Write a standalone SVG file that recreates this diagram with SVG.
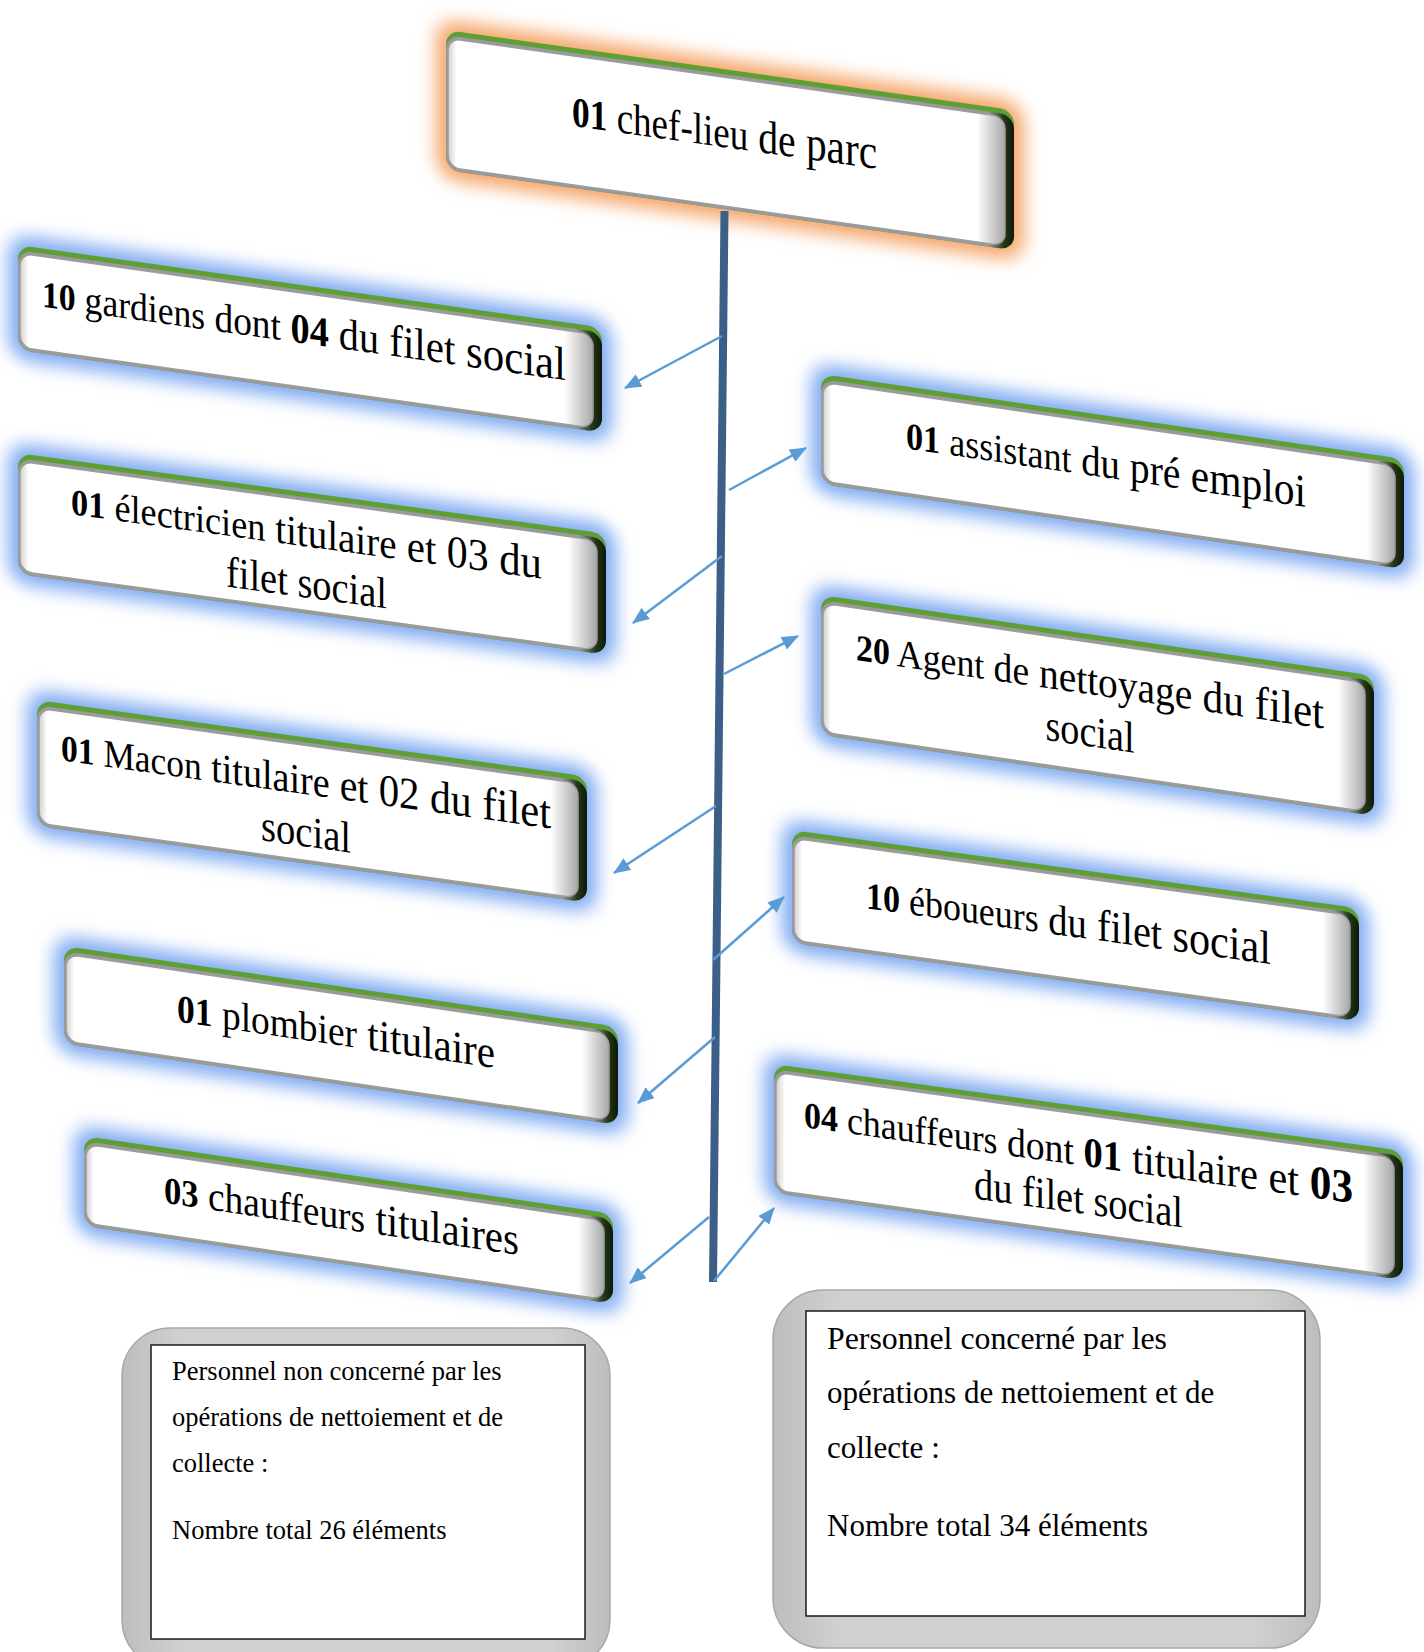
<svg xmlns="http://www.w3.org/2000/svg" width="1424" height="1652" viewBox="0 0 1424 1652">
<style>
.t{font-family:"Liberation Serif","Times New Roman",serif;fill:#000;}
.b{font-weight:bold;}
.s{font-family:"Liberation Serif","Times New Roman",serif;fill:#000;}
.glowB{fill:#80abf2;filter:url(#blur);}
.glowO{fill:#f6a66a;filter:url(#blur);}
.green{fill:#5e9f35;}
.side{fill:url(#sideG);}
.face{fill:url(#faceG);stroke:#9c9c9c;stroke-width:1.5;}
.arrow{stroke:#5b9bd5;stroke-width:2.5;fill:none;marker-end:url(#ah);}
.frame{fill:url(#grayG);stroke:#a8a8a8;stroke-width:1.5;}
.inner{fill:#fff;stroke:#1a1a1a;stroke-width:1.5;}
</style>
<defs>
<filter id="blur" x="-20%" y="-50%" width="140%" height="200%"><feGaussianBlur stdDeviation="9"/></filter>
<linearGradient id="sideG" x1="0" y1="0" x2="1" y2="0">
<stop offset="0" stop-color="#9a9a9a"/><stop offset="0.955" stop-color="#9a9a9a"/><stop offset="0.982" stop-color="#25381a"/><stop offset="1" stop-color="#0e1808"/>
</linearGradient>
<linearGradient id="faceG" x1="0" y1="0" x2="1" y2="0">
<stop offset="0" stop-color="#cfcfcf"/><stop offset="0.015" stop-color="#ffffff"/><stop offset="0.95" stop-color="#ffffff"/><stop offset="1" stop-color="#a8a8a8"/>
</linearGradient>
<linearGradient id="grayG" x1="0" y1="0" x2="1" y2="0">
<stop offset="0" stop-color="#bdbdbd"/><stop offset="0.12" stop-color="#d0d0d0"/><stop offset="0.88" stop-color="#d0d0d0"/><stop offset="1" stop-color="#bdbdbd"/>
</linearGradient>
<marker id="ah" markerUnits="userSpaceOnUse" markerWidth="18" markerHeight="14" refX="16" refY="7" orient="auto">
<path d="M0,0 L17,7 L0,14 Z" fill="#5b9bd5"/>
</marker>
</defs>
<rect width="1424" height="1652" fill="#fff"/>

<g id="node-chef" transform="translate(446,30) skewY(8.03)">
<rect class="glowO" x="-10" y="-10" width="588" height="160" rx="22"/>
<rect class="green" x="0" y="0" width="568" height="140" rx="14"/>
<rect class="side" x="0" y="5" width="568" height="135" rx="14"/>
<rect class="face" x="2" y="8" width="557" height="129" rx="12"/>
<text class="t" x="278.5" y="78" text-anchor="middle" textLength="305" lengthAdjust="spacingAndGlyphs"><tspan class="b" font-size="42">01</tspan><tspan font-size="44"> chef-lieu</tspan><tspan font-size="47"> de</tspan><tspan font-size="49"> parc</tspan></text>
</g>

<g id="node-gardiens" transform="translate(18,245) skewY(8.03)">
<rect class="glowB" x="-10" y="-10" width="604" height="125" rx="22"/>
<rect class="green" x="0" y="0" width="584" height="105" rx="14"/>
<rect class="side" x="0" y="5" width="584" height="100" rx="14"/>
<rect class="face" x="2" y="8" width="573" height="94" rx="12"/>
<text class="t" x="286" y="58" text-anchor="middle" textLength="524" lengthAdjust="spacingAndGlyphs"><tspan class="b" font-size="37">10</tspan><tspan font-size="39"> gardiens</tspan><tspan font-size="41"> dont</tspan><tspan class="b" font-size="42"> 04</tspan><tspan font-size="44"> du</tspan><tspan font-size="45"> filet</tspan><tspan font-size="47"> social</tspan></text>
</g>

<g id="node-electricien" transform="translate(18,453) skewY(7.80)">
<rect class="glowB" x="-10" y="-10" width="608" height="141" rx="22"/>
<rect class="green" x="0" y="0" width="588" height="121" rx="14"/>
<rect class="side" x="0" y="5" width="588" height="116" rx="14"/>
<rect class="face" x="2" y="8" width="577" height="110" rx="12"/>
<text class="t" x="288.5" y="54" text-anchor="middle" textLength="471" lengthAdjust="spacingAndGlyphs"><tspan class="b" font-size="37">01</tspan><tspan font-size="39"> électricien</tspan><tspan font-size="42"> titulaire</tspan><tspan font-size="44"> et</tspan><tspan font-size="45"> 03</tspan><tspan font-size="46"> du</tspan></text>
<text class="t" x="288.5" y="105" font-size="44" text-anchor="middle" textLength="161" lengthAdjust="spacingAndGlyphs">filet social</text>
</g>

<g id="node-macon" transform="translate(37,700) skewY(7.91)">
<rect class="glowB" x="-10" y="-10" width="570" height="146" rx="22"/>
<rect class="green" x="0" y="0" width="550" height="126" rx="14"/>
<rect class="side" x="0" y="5" width="550" height="121" rx="14"/>
<rect class="face" x="2" y="8" width="539" height="115" rx="12"/>
<text class="t" x="269" y="57" text-anchor="middle" textLength="490" lengthAdjust="spacingAndGlyphs"><tspan class="b" font-size="37">01</tspan><tspan font-size="39"> Macon</tspan><tspan font-size="42"> titulaire</tspan><tspan font-size="44"> et</tspan><tspan font-size="45"> 02</tspan><tspan font-size="46"> du</tspan><tspan font-size="47"> filet</tspan></text>
<text class="t" x="269" y="109" font-size="44" text-anchor="middle" textLength="90" lengthAdjust="spacingAndGlyphs">social</text>
</g>

<g id="node-plombier" transform="translate(64,946) skewY(8.31)">
<rect class="glowB" x="-10" y="-10" width="574" height="118" rx="22"/>
<rect class="green" x="0" y="0" width="554" height="98" rx="14"/>
<rect class="side" x="0" y="5" width="554" height="93" rx="14"/>
<rect class="face" x="2" y="8" width="543" height="87" rx="12"/>
<text class="t" x="272" y="59" text-anchor="middle" textLength="318" lengthAdjust="spacingAndGlyphs"><tspan class="b" font-size="39">01</tspan><tspan font-size="41"> plombier</tspan><tspan font-size="45"> titulaire</tspan></text>
</g>

<g id="node-chauffeurs-titulaires" transform="translate(84,1136) skewY(8.36)">
<rect class="glowB" x="-10" y="-10" width="549" height="110" rx="22"/>
<rect class="green" x="0" y="0" width="529" height="90" rx="14"/>
<rect class="side" x="0" y="5" width="529" height="85" rx="14"/>
<rect class="face" x="2" y="8" width="518" height="79" rx="12"/>
<text class="t" x="257.5" y="55" text-anchor="middle" textLength="355" lengthAdjust="spacingAndGlyphs"><tspan class="b" font-size="38">03</tspan><tspan font-size="41"> chauffeurs</tspan><tspan font-size="45"> titulaires</tspan></text>
</g>

<g id="node-assistant" transform="translate(821,374) skewY(8.31)">
<rect class="glowB" x="-10" y="-10" width="603" height="130" rx="22"/>
<rect class="green" x="0" y="0" width="583" height="110" rx="14"/>
<rect class="side" x="0" y="5" width="583" height="105" rx="14"/>
<rect class="face" x="2" y="8" width="572" height="99" rx="12"/>
<text class="t" x="285" y="62" text-anchor="middle" textLength="400" lengthAdjust="spacingAndGlyphs"><tspan class="b" font-size="38">01</tspan><tspan font-size="40"> assistant</tspan><tspan font-size="43"> du</tspan><tspan font-size="44"> pré</tspan><tspan font-size="46"> emploi</tspan></text>
</g>

<g id="node-agent" transform="translate(821,595) skewY(8.31)">
<rect class="glowB" x="-10" y="-10" width="573" height="160" rx="22"/>
<rect class="green" x="0" y="0" width="553" height="140" rx="14"/>
<rect class="side" x="0" y="5" width="553" height="135" rx="14"/>
<rect class="face" x="2" y="8" width="542" height="129" rx="12"/>
<text class="t" x="269" y="60" text-anchor="middle" textLength="468" lengthAdjust="spacingAndGlyphs"><tspan class="b" font-size="37">20</tspan><tspan font-size="39"> Agent</tspan><tspan font-size="41"> de</tspan><tspan font-size="43"> nettoyage</tspan><tspan font-size="45"> du</tspan><tspan font-size="47"> filet</tspan></text>
<text class="t" x="269" y="112" font-size="44" text-anchor="middle" textLength="89" lengthAdjust="spacingAndGlyphs">social</text>
</g>

<g id="node-eboueurs" transform="translate(792,830) skewY(7.86)">
<rect class="glowB" x="-10" y="-10" width="587" height="133" rx="22"/>
<rect class="green" x="0" y="0" width="567" height="113" rx="14"/>
<rect class="side" x="0" y="5" width="567" height="108" rx="14"/>
<rect class="face" x="2" y="8" width="556" height="102" rx="12"/>
<text class="t" x="276.5" y="68" text-anchor="middle" textLength="405" lengthAdjust="spacingAndGlyphs"><tspan class="b" font-size="38">10</tspan><tspan font-size="40"> éboueurs</tspan><tspan font-size="43"> du</tspan><tspan font-size="45"> filet</tspan><tspan font-size="47"> social</tspan></text>
</g>

<g id="node-chauffeurs-dont" transform="translate(774,1064) skewY(7.86)">
<rect class="glowB" x="-10" y="-10" width="649" height="149" rx="22"/>
<rect class="green" x="0" y="0" width="629" height="129" rx="14"/>
<rect class="side" x="0" y="5" width="629" height="124" rx="14"/>
<rect class="face" x="2" y="8" width="618" height="118" rx="12"/>
<text class="t" x="304.5" y="59" text-anchor="middle" textLength="549" lengthAdjust="spacingAndGlyphs"><tspan class="b" font-size="37">04</tspan><tspan font-size="39"> chauffeurs</tspan><tspan font-size="41"> dont</tspan><tspan class="b" font-size="42"> 01</tspan><tspan font-size="44"> titulaire</tspan><tspan font-size="46"> et</tspan><tspan class="b" font-size="47"> 03</tspan></text>
<text class="t" x="304.5" y="107" font-size="44" text-anchor="middle" textLength="209" lengthAdjust="spacingAndGlyphs">du filet social</text>
</g>

<g id="summary-left">
<rect class="frame" x="122" y="1328" width="488" height="340" rx="48"/>
<rect class="inner" x="151" y="1345" width="434" height="294"/>
<text class="s" font-size="26.5" x="172" y="1380">Personnel non concerné par les</text>
<text class="s" font-size="26.5" x="172" y="1426">opérations de nettoiement et de</text>
<text class="s" font-size="26.5" x="172" y="1472">collecte :</text>
<text class="s" font-size="26.5" x="172" y="1539">Nombre total 26 éléments</text>
</g>

<g id="summary-right">
<rect class="frame" x="773" y="1290" width="547" height="358" rx="50"/>
<rect class="inner" x="806" y="1311" width="499" height="305"/>
<text class="s" font-size="31" x="827" y="1349" textLength="340" lengthAdjust="spacingAndGlyphs">Personnel concerné par les</text>
<text class="s" font-size="31" x="827" y="1403">opérations de nettoiement et de</text>
<text class="s" font-size="31" x="827" y="1458">collecte :</text>
<text class="s" font-size="31" x="827" y="1536">Nombre total 34 éléments</text>
</g>

<g id="connectors">
<line x1="724.5" y1="211" x2="713" y2="1282" stroke="#3b5f87" stroke-width="8"/>
<line class="arrow" x1="722" y1="336" x2="625" y2="388"/>
<line class="arrow" x1="729" y1="490" x2="806" y2="448"/>
<line class="arrow" x1="722" y1="556" x2="633" y2="623"/>
<line class="arrow" x1="724" y1="674" x2="798" y2="636"/>
<line class="arrow" x1="716" y1="806" x2="614" y2="873"/>
<line class="arrow" x1="713" y1="960" x2="784" y2="897"/>
<line class="arrow" x1="715" y1="1037" x2="638" y2="1103"/>
<line class="arrow" x1="709" y1="1217" x2="630" y2="1283"/>
<line class="arrow" x1="714" y1="1281" x2="774" y2="1208"/>
</g>
</svg>
